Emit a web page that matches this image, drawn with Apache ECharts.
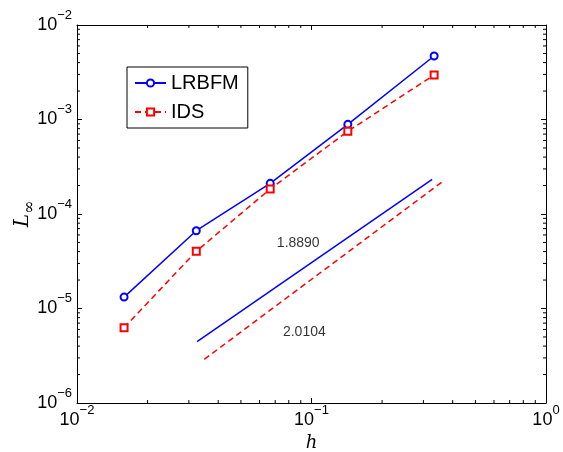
<!DOCTYPE html>
<html>
<head>
<meta charset="utf-8">
<script src="https://cdn.jsdelivr.net/npm/echarts@6/dist/echarts.min.js"></script>
<style>html,body{margin:0;padding:0;background:#fff}#c{width:563px;height:452px}</style>
</head>
<body>
<div id="c"></div>
<script>
// ---- data ----
var h = [1/63, 1/31, 1/15, 1/7, 1/3];
var lrbfm = [1.32e-5, 6.65e-5, 2.11e-4, 8.89e-4, 4.70e-3];
var ids = [6.26e-6, 4.03e-5, 1.84e-4, 7.50e-4, 2.96e-3];
var refBlueX = [0.0325, 0.327];
var refBlueY = [4.45e-6, 2.33e-4];
var refRedX = [0.0349, 0.360];
var refRedY = [2.90e-6, 2.18e-4];
var slopeLabels = ['1.8890', '2.0104'];
var slopeLabelX = [0.0878, 0.0932];
var slopeLabelY = [4.97e-5, 5.68e-6];
var xTickExps = [-2, -1, 0];
var yTickExps = [-6, -5, -4, -3, -2];
var seriesNames = ['LRBFM', 'IDS'];

function zip(a, b) { return a.map(function (v, i) { return [v, b[i]]; }); }
function expLabel(exps) {
  return function (v) {
    var e = Math.round(Math.log10(v));
    if (exps.indexOf(e) < 0) return '';
    var s = e < 0 ? '\u2212' + (-e) : String(e);
    return '{b|10}{s|' + s + '}';
  };
}
var rich = {
  b: { fontSize: 18, fontFamily: 'Liberation Sans', color: '#000' },
  s: { fontSize: 13, fontFamily: 'Liberation Sans', color: '#000', padding: [0, 0, 20, 0] }
};
var xMin = Math.pow(10, xTickExps[0]), xMax = Math.pow(10, xTickExps[xTickExps.length - 1]);
var yMin = Math.pow(10, yTickExps[0]), yMax = Math.pow(10, yTickExps[yTickExps.length - 1]);

// minor tick positions (2..9 x 10^k)
var xMinor = [], yMinor = [];
for (var k = xTickExps[0]; k < xTickExps[xTickExps.length - 1]; k++)
  for (var m = 2; m <= 9; m++) xMinor.push([m * Math.pow(10, k), yMin]);
for (var k2 = yTickExps[0]; k2 < yTickExps[yTickExps.length - 1]; k2++)
  for (var m2 = 2; m2 <= 9; m2++) yMinor.push([xMin, m2 * Math.pow(10, k2)]);

function axisCommon(pos, showLabel, exps, margin) {
  return {
    type: 'log', logBase: 10, position: pos,
    axisLine: { show: true, onZero: false, lineStyle: { color: '#000', width: 1 } },
    axisTick: { show: true, inside: true, length: 5, lineStyle: { color: '#000' } },
    splitLine: { show: false },
    axisLabel: { show: showLabel, formatter: expLabel(exps), rich: rich, margin: margin, color: '#000' }
  };
}
var xB = axisCommon('bottom', true, xTickExps, 1);
xB.min = xMin; xB.max = xMax; xB.interval = 1;
xB.name = 'h'; xB.nameLocation = 'middle'; xB.nameGap = 31;
xB.nameTextStyle = { fontFamily: 'DejaVu Serif', fontStyle: 'italic', fontSize: 18, color: '#000' };
var xT = axisCommon('top', false, xTickExps, 5);
xT.min = xMin; xT.max = xMax; xT.interval = 1;
var yL = axisCommon('left', true, yTickExps, 5);
yL.min = yMin; yL.max = yMax; yL.interval = 1;
yL.name = '{L|L}{s|\u221E}'; yL.nameLocation = 'middle'; yL.nameGap = 39; yL.nameRotate = 90;
yL.nameMoveOverlap = false;
yL.nameTextStyle = { rich: {
  L: { fontFamily: 'DejaVu Serif', fontStyle: 'italic', fontSize: 20, color: '#000' },
  s: { fontFamily: 'DejaVu Serif', fontSize: 16, color: '#000', padding: [14, 0, 0, 0] }
} };
var yR = axisCommon('right', false, yTickExps, 5);
yR.min = yMin; yR.max = yMax; yR.interval = 1;

function minorRender(isX) {
  return function (params, api) {
    var a = isX ? api.value(0) : api.value(1);
    var p1, p2;
    if (isX) { p1 = api.coord([a, yMin]); p2 = api.coord([a, yMax]); }
    else { p1 = api.coord([xMin, a]); p2 = api.coord([xMax, a]); }
    var st = { stroke: '#000', lineWidth: 1 };
    var L = 3;
    if (isX) {
      return { type: 'group', children: [
        { type: 'line', shape: { x1: p1[0], y1: p1[1], x2: p1[0], y2: p1[1] - L }, style: st },
        { type: 'line', shape: { x1: p2[0], y1: p2[1], x2: p2[0], y2: p2[1] + L }, style: st }
      ] };
    }
    return { type: 'group', children: [
      { type: 'line', shape: { x1: p1[0], y1: p1[1], x2: p1[0] + L, y2: p1[1] }, style: st },
      { type: 'line', shape: { x1: p2[0], y1: p2[1], x2: p2[0] - L, y2: p2[1] }, style: st }
    ] };
  };
}

var chart = echarts.init(document.getElementById('c'), null, { renderer: 'canvas' });
chart.setOption({
  animation: false,
  backgroundColor: '#fff',
  grid: { left: 77, top: 25, right: 17, bottom: 49, containLabel: false, outerBoundsMode: 'none' },
  xAxis: [xB, xT],
  yAxis: [yL, yR],
  legend: {
    data: seriesNames, orient: 'vertical', left: 127, top: 67,
    borderColor: '#000', borderWidth: 1, padding: [6, 9, 6, 7],
    itemWidth: 31, itemHeight: 9, itemGap: 9,
    textStyle: { fontSize: 20, fontFamily: 'Liberation Sans', color: '#000' },
    backgroundColor: '#fff'
  },
  series: [
    { type: 'custom', silent: true, renderItem: minorRender(true), data: xMinor, z: 1 },
    { type: 'custom', silent: true, renderItem: minorRender(false), data: yMinor, z: 1 },
    { name: seriesNames[0], type: 'line', data: zip(h, lrbfm), symbol: 'emptyCircle', symbolSize: 7,
      color: '#0000ff', lineStyle: { color: '#0000ff', width: 1.5 }, itemStyle: { color: '#0000ff', borderWidth: 1.5 }, z: 3 },
    { name: seriesNames[1], type: 'line', data: zip(h, ids), symbol: 'emptyRect', symbolSize: 7,
      color: '#ff0000', lineStyle: { color: '#ff0000', width: 1.5, type: [6, 4] }, itemStyle: { color: '#ff0000', borderWidth: 1.5 }, z: 3 },
    { type: 'line', data: zip(refBlueX, refBlueY), symbol: 'none', lineStyle: { color: '#0000ff', width: 1.5 }, silent: true },
    { type: 'line', data: zip(refRedX, refRedY), symbol: 'none', lineStyle: { color: '#ff0000', width: 1.5, type: [6, 4] }, silent: true },
    { type: 'scatter', data: slopeLabels.map(function (t, i) { return { value: [slopeLabelX[i], slopeLabelY[i]], name: t }; }),
      symbolSize: 1, itemStyle: { color: 'rgba(0,0,0,0)' }, silent: true,
      label: { show: true, position: 'inside', formatter: function (p) { return p.name; },
        fontSize: 14, fontFamily: 'Liberation Sans', color: '#000' } }
  ]
});
</script>
</body>
</html>
